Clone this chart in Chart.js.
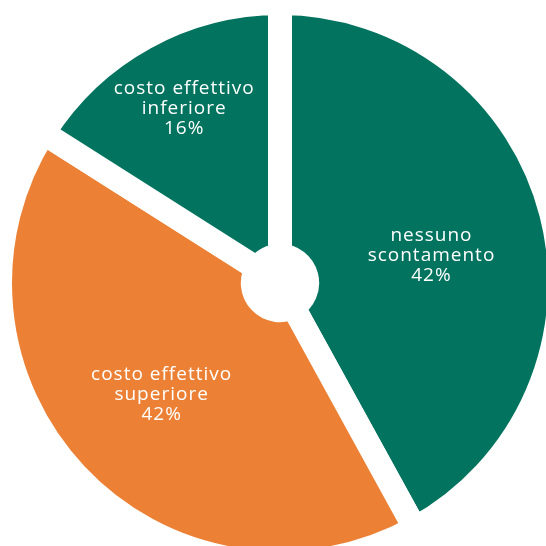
<!DOCTYPE html>
<html>
<head>
<meta charset="utf-8">
<script src="https://cdn.jsdelivr.net/npm/chart.js@4.4.1/dist/chart.umd.min.js"></script>
<style>
  html, body { margin: 0; padding: 0; background: #fff; overflow: hidden; }
  #wrap { position: absolute; left: 0; top: 3px; width: 560px; height: 560px; }
</style>
</head>
<body>
<div id="wrap"><canvas id="pie"></canvas></div>
<script>
// Data
var labels = [['nessuno', 'scontamento'], ['costo effettivo', 'superiore'], ['costo effettivo', 'inferiore']]
var values = [42, 42, 16]
var colors = ['#02735e', '#ec8135', '#02735e']

// where each label sits: share of the outer radius, and a small turn (degrees) off the slice's middle
var labelRadii = [0.55, 0.58, 0.71]
var labelTurns = [4, 0, 0]

// Labels drawn inside the slices
const sliceLabels = {
    id: 'sliceLabels',
    afterDatasetsDraw(chart) {
        const ctx = chart.ctx
        const arcs = chart.getDatasetMeta(0).data
        ctx.save()
        ctx.fillStyle = '#ffffff'
        ctx.font = '500 19px "Open Sans", sans-serif'
        ctx.letterSpacing = '1px'
        ctx.textAlign = 'center'
        ctx.textBaseline = 'middle'
        arcs.forEach((arc, i) => {
            const p = arc.getProps(['x', 'y', 'startAngle', 'endAngle', 'outerRadius'], true)
            const mid = (p.startAngle + p.endAngle) / 2 + labelTurns[i] * Math.PI / 180
            const r = p.outerRadius * labelRadii[i]
            const cx = p.x + Math.cos(mid) * r
            const cy = p.y + Math.sin(mid) * r
            const lines = labels[i].concat([values[i] + '%'])
            lines.forEach((line, j) => {
                ctx.fillText(line, cx, cy + (j - (lines.length - 1) / 2) * 20)
            })
        })
        ctx.restore()
    }
}

new Chart(document.getElementById('pie'), {
    type: 'doughnut',
    data: {
        labels: labels.map(l => l.join(' ')),
        datasets: [{
            data: values,
            backgroundColor: colors,
            borderColor: '#ffffff',
            borderWidth: 24,
            borderJoinStyle: 'miter',
            radius: 280
        }]
    },
    options: {
        responsive: true,
        maintainAspectRatio: false,
        animation: false,
        cutout: 26,
        layout: { padding: 0 },
        plugins: {
            legend: { display: false },
            tooltip: { enabled: false }
        }
    },
    plugins: [sliceLabels]
})
</script>
</body>
</html>
